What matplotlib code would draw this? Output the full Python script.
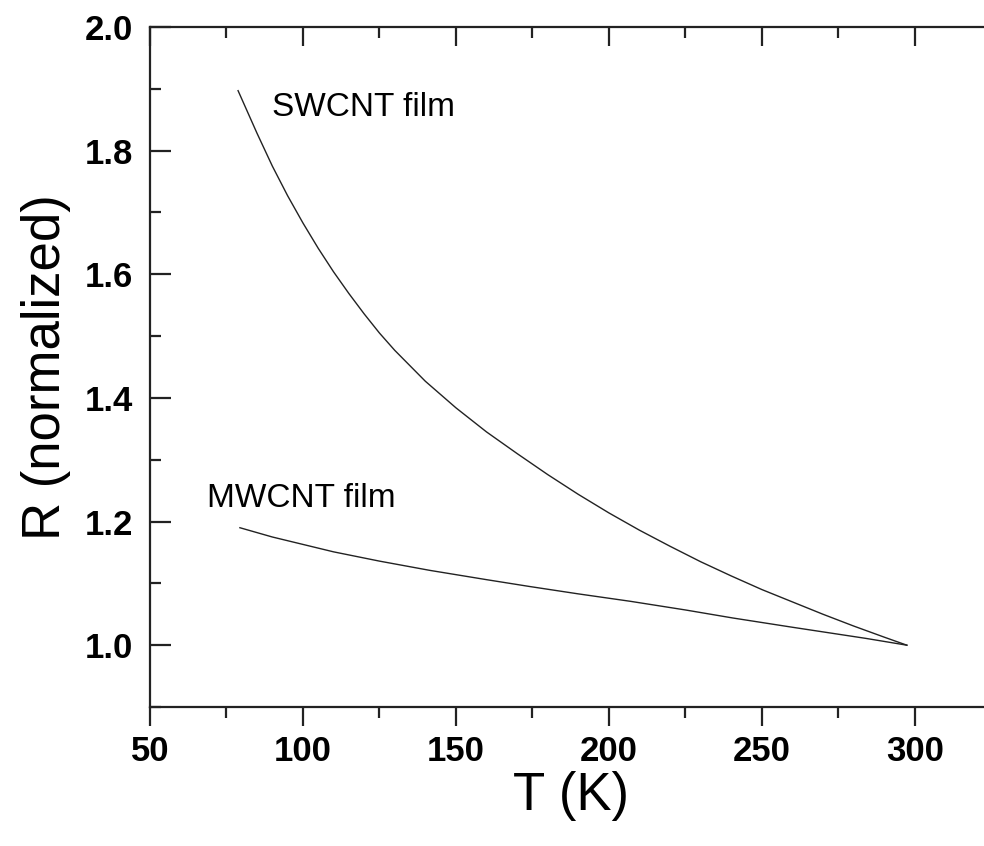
import matplotlib
matplotlib.use("Agg")
import matplotlib.pyplot as plt
from matplotlib.ticker import MultipleLocator

plt.rcParams["font.family"] = ["Liberation Sans", "DejaVu Sans"]

# values
sw_T = [78.8, 85, 90, 95, 100, 105, 110, 115, 120, 125, 130, 140, 150, 160,
        170, 180, 190, 200, 210, 220, 230, 240, 250, 260, 270, 280, 290, 297.4]
sw_R = [1.897, 1.828, 1.775, 1.727, 1.683, 1.642, 1.604, 1.569, 1.536, 1.505,
        1.477, 1.427, 1.384, 1.345, 1.310, 1.276, 1.244, 1.214, 1.186, 1.160,
        1.135, 1.112, 1.090, 1.070, 1.050, 1.031, 1.013, 1.000]

mw_T = [79.4, 90, 100, 110, 125, 141.5, 160, 174, 190, 207, 225, 240.5, 260,
        284, 297.4]
mw_R = [1.190, 1.175, 1.163, 1.151, 1.136, 1.121, 1.106, 1.095, 1.083, 1.071,
        1.057, 1.044, 1.029, 1.011, 1.000]

labels = ["SWCNT film", "MWCNT film"]


def main():
    fig = plt.figure(figsize=(9.84, 8.46), dpi=100)
    ax = fig.add_axes([0.1524, 0.1643, 0.855, 0.8038])

    ax.plot(sw_T, sw_R, color="#222222", lw=1.0)
    ax.plot(mw_T, mw_R, color="#222222", lw=1.0)

    ax.text(90, 1.87, labels[0], fontsize=24, va="center", ha="left")
    ax.text(68.6, 1.237, labels[1], fontsize=24, va="center", ha="left")

    ax.set_xlim(50, 325)
    ax.set_ylim(0.9, 2.0)
    ax.xaxis.set_major_locator(MultipleLocator(50))
    ax.xaxis.set_minor_locator(MultipleLocator(25))
    ax.yaxis.set_major_locator(MultipleLocator(0.2))
    ax.yaxis.set_minor_locator(MultipleLocator(0.1))
    ax.yaxis.set_major_formatter(plt.FormatStrFormatter("%.1f"))

    for s in ax.spines.values():
        s.set_linewidth(1.6)
        s.set_color("#222222")

    ax.tick_params(axis="x", which="both", direction="out", top=False,
                   labelsize=25, pad=6, width=1.6, color="#222222")
    ax.tick_params(axis="x", which="major", length=14)
    ax.tick_params(axis="x", which="minor", length=8)
    ax.tick_params(axis="y", which="both", direction="in", labelsize=25,
                   pad=12, width=1.6, color="#222222")
    ax.tick_params(axis="y", which="major", length=15)
    ax.tick_params(axis="y", which="minor", length=8)
    for lab in ax.get_xticklabels() + ax.get_yticklabels():
        lab.set_fontweight("bold")

    # top ticks point into the plot
    sec = ax.secondary_xaxis("top")
    sec.xaxis.set_major_locator(MultipleLocator(50))
    sec.xaxis.set_minor_locator(MultipleLocator(25))
    sec.tick_params(which="both", direction="in", labeltop=False, width=1.6,
                    color="#222222")
    sec.tick_params(which="major", length=14)
    sec.tick_params(which="minor", length=8)
    sec.spines["top"].set_visible(False)

    ax.set_xlabel("T (K)", fontsize=38, labelpad=2)
    ax.set_ylabel("R (normalized)", fontsize=38, labelpad=10)

    fig.savefig("out.png", dpi=100)
    plt.close(fig)


if __name__ == "__main__":
    main()
